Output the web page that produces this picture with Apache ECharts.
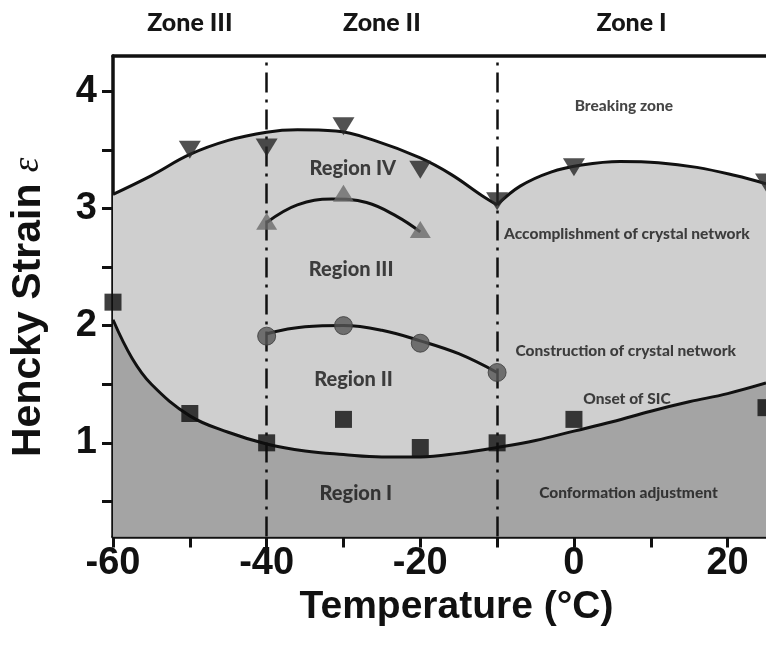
<!DOCTYPE html>
<html>
<head>
<meta charset="utf-8">
<script src="https://cdn.jsdelivr.net/npm/echarts@6/dist/echarts.min.js"></script>
<style>
html,body{margin:0;padding:0;background:#fff;}
#c{width:766px;height:646px;}
</style>
</head>
<body>
<div id="c"></div>
<script>
// ---- data ----
const upperLeftX = [-60, -55, -50, -45, -40, -36, -31, -26, -20, -16, -12, -10];
const upperLeftY = [3.12, 3.28, 3.46, 3.58, 3.65, 3.67, 3.66, 3.58, 3.43, 3.29, 3.11, 3.03];
const upperRightX = [-10, -7, -3, 1, 6, 11, 16, 21, 25];
const upperRightY = [3.03, 3.19, 3.31, 3.37, 3.40, 3.39, 3.35, 3.28, 3.21];
const lowerX = [-60, -57.5, -55, -50, -45, -40, -35, -30, -25, -20, -15, -10, -5, 0, 5, 10, 15, 20, 25];
const lowerY = [2.05, 1.72, 1.50, 1.23, 1.09, 0.99, 0.93, 0.90, 0.88, 0.88, 0.91, 0.96, 1.02, 1.10, 1.18, 1.27, 1.35, 1.42, 1.51];
const circleCurveX = [-40, -35, -30, -25, -20, -15, -10];
const circleCurveY = [1.93, 1.99, 2.00, 1.96, 1.87, 1.76, 1.60];
const triCurveX = [-40, -36, -31.5, -27, -23, -20];
const triCurveY = [2.88, 3.03, 3.08, 3.05, 2.93, 2.80];

const squareX = [-60, -50, -40, -30, -20, -10, 0, 25];
const squareY = [2.2, 1.25, 1.0, 1.2, 0.96, 1.0, 1.2, 1.3];
const circleX = [-40, -30, -20, -10];
const circleY = [1.91, 2.0, 1.85, 1.60];
const upTriX = [-40, -30, -20];
const upTriY = [2.89, 3.13, 2.82];
const downTriX = [-50, -40, -30, -20, -10, 0, 25];
const downTriY = [3.50, 3.52, 3.70, 3.33, 3.06, 3.35, 3.22];

const zoneBounds = [-40, -10];
const zoneNames = ['Zone III', 'Zone II', 'Zone I'];
const zoneCenters = [-50, -25, 7.5];

const bigLabels = ['Region IV', 'Region III', 'Region II', 'Region I'];
const bigLabelX = [-28.8, -29.0, -28.7, -28.4];
const bigLabelY = [3.34, 2.48, 1.54, 0.57];
const smallLabels = ['Breaking zone', 'Accomplishment of crystal network', 'Construction of crystal network', 'Onset of SIC', 'Conformation adjustment'];
const smallLabelX = [6.5, 6.9, 6.75, 6.9, 7.1];
const smallLabelY = [3.87, 2.78, 1.78, 1.37, 0.57];

const xTickValues = [-60, -50, -40, -30, -20, -10, 0, 10, 20];
const xLabelValues = [-60, -40, -20, 0, 20];
const yTickValues = [0.5, 1, 1.5, 2, 2.5, 3, 3.5, 4];
const yLabelValues = [1, 2, 3, 4];

// ---- build ----
const zip = (xs, ys) => xs.map((x, i) => [x, ys[i]]);
const LIGHT = '#cfcfcf', DARK = '#a4a4a4';
const curveLine = { color: '#111', width: 3 };
const SANS = '"Liberation Sans", Arial, sans-serif';
const LABELFONT = 'Lato, "Open Sans", sans-serif';

const chart = echarts.init(document.getElementById('c'), null, { renderer: 'canvas' });

const axisFont = { fontFamily: SANS, fontWeight: 'bold', fontSize: 38, color: '#111' };

const option = {
  animation: false,
  backgroundColor: '#fff',
  grid: { left: 113, top: 56, right: -4, bottom: 109.4, containLabel: false },
  xAxis: [{
    type: 'value', min: -60, max: 25,
    axisLine: { show: true, onZero: false, lineStyle: { color: '#111', width: 3.5 } },
    axisTick: { show: true, inside: false, length: 11, lineStyle: { color: '#111', width: 3 }, customValues: xTickValues },
    axisLabel: Object.assign({ margin: 8, customValues: xLabelValues }, axisFont),
    splitLine: { show: false },
    name: 'Temperature (°C)', nameLocation: 'middle', nameGap: 50,
    nameTextStyle: { fontFamily: SANS, fontWeight: 'bold', fontSize: 39, color: '#111', padding: [0, 0, 0, 34] }
  }, {
    type: 'value', min: -60, max: 25, position: 'top',
    axisLine: { show: true, onZero: false, lineStyle: { color: '#111', width: 3.5 } },
    axisTick: { show: false }, axisLabel: { show: false }, splitLine: { show: false }
  }],
  yAxis: [{
    type: 'value', min: 0.2, max: 4.3,
    axisLine: { show: true, onZero: false, lineStyle: { color: '#111', width: 3.5 } },
    axisTick: { show: true, inside: false, length: 11, lineStyle: { color: '#111', width: 3 }, customValues: yTickValues },
    axisLabel: Object.assign({ margin: 16, customValues: yLabelValues }, axisFont),
    splitLine: { show: false },
    name: '{a|Hencky Strain }{b|ε}', nameLocation: 'middle', nameGap: 64, nameRotate: 90,
    nameTextStyle: {
      padding: [0, 22, 0, 0],
      rich: {
        a: { fontFamily: SANS, fontWeight: 'bold', fontSize: 41, color: '#111' },
        b: { fontFamily: '"Liberation Serif", serif', fontStyle: 'italic', fontSize: 37, color: '#111' }
      }
    }
  }],
  series: [
    { type: 'line', data: zip(upperLeftX, upperLeftY), smooth: 0.4, symbol: 'none', z: 1,
      lineStyle: curveLine, areaStyle: { color: LIGHT, origin: 'start', opacity: 1 } },
    { type: 'line', data: zip(upperRightX, upperRightY), smooth: 0.4, symbol: 'none', z: 1,
      lineStyle: curveLine, areaStyle: { color: LIGHT, origin: 'start', opacity: 1 } },
    { type: 'line', data: zip(lowerX, lowerY), smooth: 0.4, symbol: 'none', z: 2,
      lineStyle: curveLine, areaStyle: { color: DARK, origin: 'start', opacity: 1 },
      markLine: {
        silent: true, symbol: 'none', label: { show: false },
        lineStyle: { color: '#111', width: 2.5, type: [20, 7, 3, 7] },
        data: zoneBounds.map(v => ({ xAxis: v }))
      }
    },
    { type: 'line', data: zip(circleCurveX, circleCurveY), smooth: 0.4, symbol: 'none', z: 3, lineStyle: curveLine },
    { type: 'line', data: zip(triCurveX, triCurveY), smooth: 0.4, symbol: 'none', z: 3, lineStyle: curveLine },
    { type: 'scatter', data: zip(squareX, squareY), symbol: 'rect', symbolSize: 17, z: 5,
      itemStyle: { color: '#0e0e0e' } },
    { type: 'scatter', data: zip(circleX, circleY), symbol: 'circle', symbolSize: 18, z: 5,
      itemStyle: { color: '#555', borderColor: '#3a3a3a', borderWidth: 1 } },
    { type: 'scatter', data: zip(upTriX, upTriY), symbol: 'triangle', symbolSize: [21, 17], z: 5,
      itemStyle: { color: '#6a6a6a' } },
    { type: 'scatter', data: zip(downTriX, downTriY), symbol: 'triangle', symbolSize: [22, 18], symbolRotate: 180, z: 5,
      itemStyle: { color: '#262626' } },
    { type: 'scatter', symbolSize: 1, z: 6, silent: true, itemStyle: { color: 'rgba(0,0,0,0)' },
      label: { show: true, position: 'inside', formatter: p => p.name, fontFamily: LABELFONT, fontWeight: 900, fontSize: 20, color: '#161616' },
      data: bigLabels.map((t, i) => ({ name: t, value: [bigLabelX[i], bigLabelY[i]] })) },
    { type: 'scatter', symbolSize: 1, z: 6, silent: true, itemStyle: { color: 'rgba(0,0,0,0)' },
      label: { show: true, position: 'inside', formatter: p => p.name, fontFamily: LABELFONT, fontWeight: 900, fontSize: 15.5, color: '#161616' },
      data: smallLabels.map((t, i) => ({ name: t, value: [smallLabelX[i], smallLabelY[i]] })) }
  ]
};
chart.setOption(option);

const zoneGraphics = zoneNames.map((t, i) => ({
  type: 'text',
  x: chart.convertToPixel({ xAxisIndex: 0 }, zoneCenters[i]),
  y: 23,
  style: { text: t, fontFamily: LABELFONT, fontWeight: 900, fontSize: 25, fill: '#161616', textAlign: 'center', textVerticalAlign: 'middle' }
}));
chart.setOption({ graphic: zoneGraphics });
</script>
</body>
</html>
